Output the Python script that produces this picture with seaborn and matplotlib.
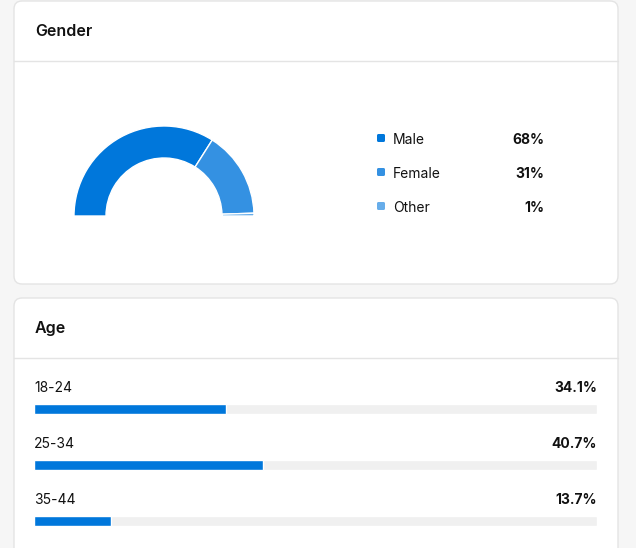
import numpy as np
import pandas as pd
import seaborn as sns
import matplotlib.pyplot as plt
from matplotlib.patches import FancyBboxPatch

# datos
genders = ['Male', 'Female', 'Other']
gender_pct = [68, 31, 1]
gender_colors = ['#0077DB', '#3491E2', '#67ADEA']

ages = ['18-24', '25-34', '35-44']
age_pct = [34.1, 40.7, 13.7]

W, H = 636, 548
sns.set_theme(style='white')
plt.rcParams['font.family'] = ['Inter', 'DejaVu Sans']

fig = plt.figure(figsize=(W / 100, H / 100), dpi=100)
fig.patch.set_facecolor('#f6f6f6')

# fondo en coordenadas de pixel
bg = fig.add_axes([0, 0, 1, 1])
bg.set_xlim(0, W)
bg.set_ylim(H, 0)
bg.axis('off')

def card(y0, y1):
    p = FancyBboxPatch((14, y0), 604, y1 - y0,
                       boxstyle='round,pad=0,rounding_size=8',
                       fc='white', ec='#e4e4e4', lw=1)
    bg.add_patch(p)

card(1, 284)
card(298, 600)
bg.plot([14, 618], [60.5, 60.5], color='#e4e4e4', lw=1)
bg.plot([14, 618], [357.5, 357.5], color='#e4e4e4', lw=1)

bg.text(35, 31.5, 'Gender', fontsize=11.5, fontweight='semibold', va='center', color='#111111')
bg.text(35, 328.5, 'Age', fontsize=11.5, fontweight='semibold', va='center', color='#111111')

# leyenda del genero
for i, (name, pct, col) in enumerate(zip(genders, gender_pct, gender_colors)):
    y = 138 + i * 34
    bg.add_patch(FancyBboxPatch((377, y - 4), 8, 8,
                                boxstyle='round,pad=0,rounding_size=1.5',
                                fc=col, ec='none'))
    bg.text(393, y + 1.5, name, fontsize=10, va='center', color='#111111')
    bg.text(544, y + 1.5, f'{pct}%', fontsize=10, fontweight='bold', va='center', ha='right', color='#111111')

# semi-dona
cx, cy, R = 164, 216, 100
ax_d = fig.add_axes([(cx - R) / W, 1 - (cy + R) / H, 2 * R / W, 2 * R / H])
wedges, _ = ax_d.pie(gender_pct + [sum(gender_pct)],
                     colors=gender_colors + ['none'],
                     startangle=180, counterclock=False, radius=0.9,
                     wedgeprops=dict(width=0.32, edgecolor='white', linewidth=1))
wedges[-1].set_visible(False)
ax_d.set_xlim(-1, 1)
ax_d.set_ylim(-1, 1)
ax_d.set_aspect('equal')
ax_d.axis('off')

# barras de edad
top, bottom = 353, 548
ax_b = fig.add_axes([34 / W, 1 - bottom / H, (597 - 34) / W, (bottom - top) / H])
ax_b.patch.set_alpha(0)
df = pd.DataFrame({'age': ages, 'pct': age_pct, 'full': [100] * len(ages)})
sns.barplot(data=df, x='full', y='age', color='#f0f0f0', width=10 / 56,
            saturation=1, ax=ax_b)
sns.barplot(data=df, x='pct', y='age', color='#0077DB', width=10 / 56,
            saturation=1, ax=ax_b)
ax_b.set_xlim(0, 100)
ax_b.set_ylim(2 + (bottom - 521) / 56, -(409 - top) / 56)
ax_b.axis('off')

for i, (a, p) in enumerate(zip(ages, age_pct)):
    ax_b.text(0, i - 21.5 / 56, a, fontsize=10, va='center', ha='left', color='#111111')
    ax_b.text(100, i - 21.5 / 56, f'{p}%', fontsize=10, fontweight='bold',
              va='center', ha='right', color='#111111')

plt.savefig('out.png', dpi=100)
